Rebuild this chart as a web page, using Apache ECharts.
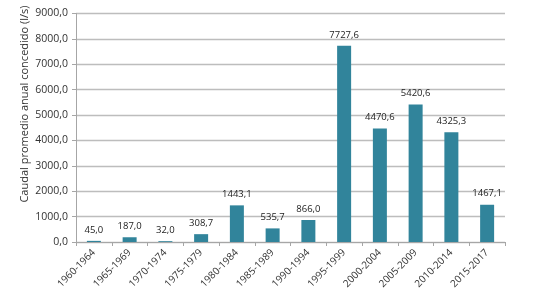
<!DOCTYPE html>
<html>
<head>
<meta charset="utf-8">
<script src="https://cdn.jsdelivr.net/npm/echarts@6/dist/echarts.min.js"></script>
<style>
  html, body { margin: 0; padding: 0; background: #fff; }
  #chart { width: 548px; height: 296px; }
</style>
</head>
<body>
<div id="chart"></div>
<script>
var periodos = ["1960-1964", "1965-1969", "1970-1974", "1975-1979", "1980-1984", "1985-1989",
  "1990-1994", "1995-1999", "2000-2004", "2005-2009", "2010-2014", "2015-2017"];
var caudal = [45.0, 187.0, 32.0, 308.7, 1443.1, 535.7, 866.0, 7727.6, 4470.6, 5420.6, 4325.3, 1467.1];
var yTicks = [0, 1000, 2000, 3000, 4000, 5000, 6000, 7000, 8000, 9000];
var tituloEje = 'Caudal promedio anual concedido (l/s)';

function coma(v) {
  return Number(v).toFixed(1).replace('.', ',');
}

var myChart = echarts.init(document.getElementById('chart'));
var fuente = 'Open Sans';
var option = {
  animation: false,
  grid: { left: 76, right: 43, top: 13.5, bottom: 54 },
  // el titulo del eje va algo mas arriba que el centro del area, como en Excel
  graphic: [{
    type: 'text',
    x: 25,
    y: 104,
    rotation: Math.PI / 2,
    style: {
      text: tituloEje,
      fontSize: 11,
      fontFamily: fuente,
      fill: '#333',
      align: 'center',
      verticalAlign: 'middle'
    }
  }],
  xAxis: {
    type: 'category',
    data: periodos,
    axisLine: { lineStyle: { color: '#a6a6a6', width: 1 } },
    axisTick: { show: true, length: 4, lineStyle: { color: '#a6a6a6' } },
    axisLabel: { rotate: 45, fontSize: 10, color: '#333', fontFamily: fuente, margin: 9, interval: 0 }
  },
  yAxis: {
    type: 'value',
    min: yTicks[0],
    max: yTicks[yTicks.length - 1],
    interval: 1000,
    axisLine: { show: true, lineStyle: { color: '#a6a6a6' } },
    axisTick: { show: true, length: 4, lineStyle: { color: '#a6a6a6' } },
    axisLabel: { fontSize: 10.5, color: '#333', fontFamily: fuente, margin: 8, formatter: coma },
    splitLine: { lineStyle: { color: '#bdbdbd', width: 1.3 } }
  },
  series: [{
    type: 'bar',
    data: caudal,
    barWidth: 14,
    itemStyle: { color: '#31849b' },
    label: {
      show: true,
      position: 'top',
      distance: 6,
      fontSize: 9.5,
      color: '#222',
      fontFamily: fuente,
      formatter: function (p) { return coma(p.value); }
    }
  }]
};
myChart.setOption(option);
</script>
</body>
</html>
